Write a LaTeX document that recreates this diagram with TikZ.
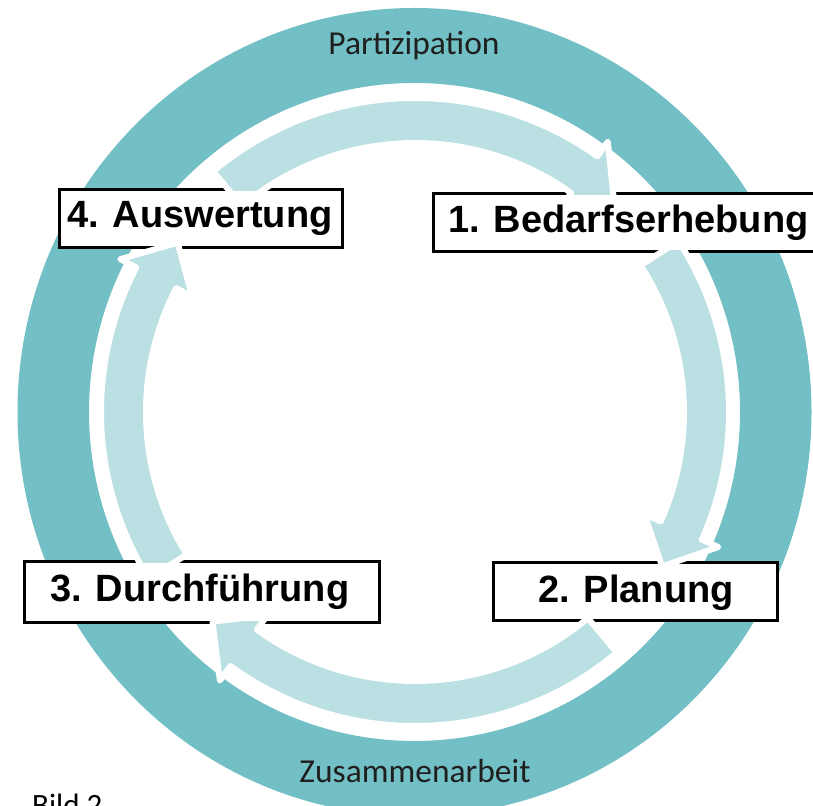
\documentclass[tikz,border=0pt]{standalone}
\usepackage{fontspec}
\setmainfont{Liberation Sans}
\newfontfamily\calib{Carlito}
\definecolor{ringc}{HTML}{72BFC5}
\definecolor{arrowc}{HTML}{BAE0E3}
\newcommand\cycarrow[3]{%
  \filldraw[arrowpart] (#1:314pt) arc[start angle=#1, end angle=#2, radius=314pt]
    -- (#2:332pt) -- (#3:291.5pt) -- (#2:251pt) -- (#2:269pt)
    arc[start angle=#2, end angle=#1, radius=269pt] -- cycle;}
\begin{document}
\begin{tikzpicture}[x=1pt,y=1pt,
  arrowpart/.style={fill=arrowc, draw=white, line width=6pt, line join=round},
  boxline/.style={draw=black, line width=3pt},
  boxfill/.style={fill=white},
  steptext/.style={font=\bfseries\fontsize{38}{40}\selectfont, inner sep=0pt, anchor=base west},
  ringtext/.style={font=\calib\fontsize{33.5}{36}\selectfont, text=black!88, inner sep=0pt, anchor=base}]
\useasboundingbox (0,0) rectangle (813,805);
\clip (0,0) rectangle (813,805);
% outer ring
\fill[ringc, even odd rule] (414.5,393) ellipse[x radius=397pt, y radius=404pt]
  (414.5,393) ellipse[x radius=325.5pt, y radius=329pt];
% box borders
\draw[boxline] (59,557) rectangle (342,615);
\draw[boxline] (433,553) rectangle (835,611);
\draw[boxline] (493,184) rectangle (777,242);
\draw[boxline] (24,182) rectangle (379,243);
% cycle arrows
\begin{scope}[shift={(415,393)}]
  \cycarrow{130}{54.5}{47}
  \cycarrow{33}{-24}{-32}
  \cycarrow{310}{234}{226}
  \cycarrow{212}{152.6}{144.5}
\end{scope}
% box interiors
\fill[boxfill] (60.5,558.5) rectangle (340.5,613.5);
\fill[boxfill] (434.5,554.5) rectangle (833.5,609.5);
\fill[boxfill] (494.5,185.5) rectangle (775.5,240.5);
\fill[boxfill] (25.5,183.5) rectangle (377.5,241.5);
% labels
\node[steptext] (s4) at (67,577) {4. Auswertung};
\node[steptext] (s1) at (448,572) {1. Bedarfserhebung};
\node[steptext] (s2) at (538,202) {2. Planung};
\node[steptext] (s3) at (50,203) {3. Durchführung};
\node[ringtext] (top) at (414,750) {Partizipation};
\node[ringtext] (bot) at (415,22) {Zusammenarbeit};
\node[font=\calib\fontsize{31}{33}\selectfont, inner sep=0pt, anchor=base west] (cap) at (32,-10) {Bild 2};
\end{tikzpicture}
\end{document}
